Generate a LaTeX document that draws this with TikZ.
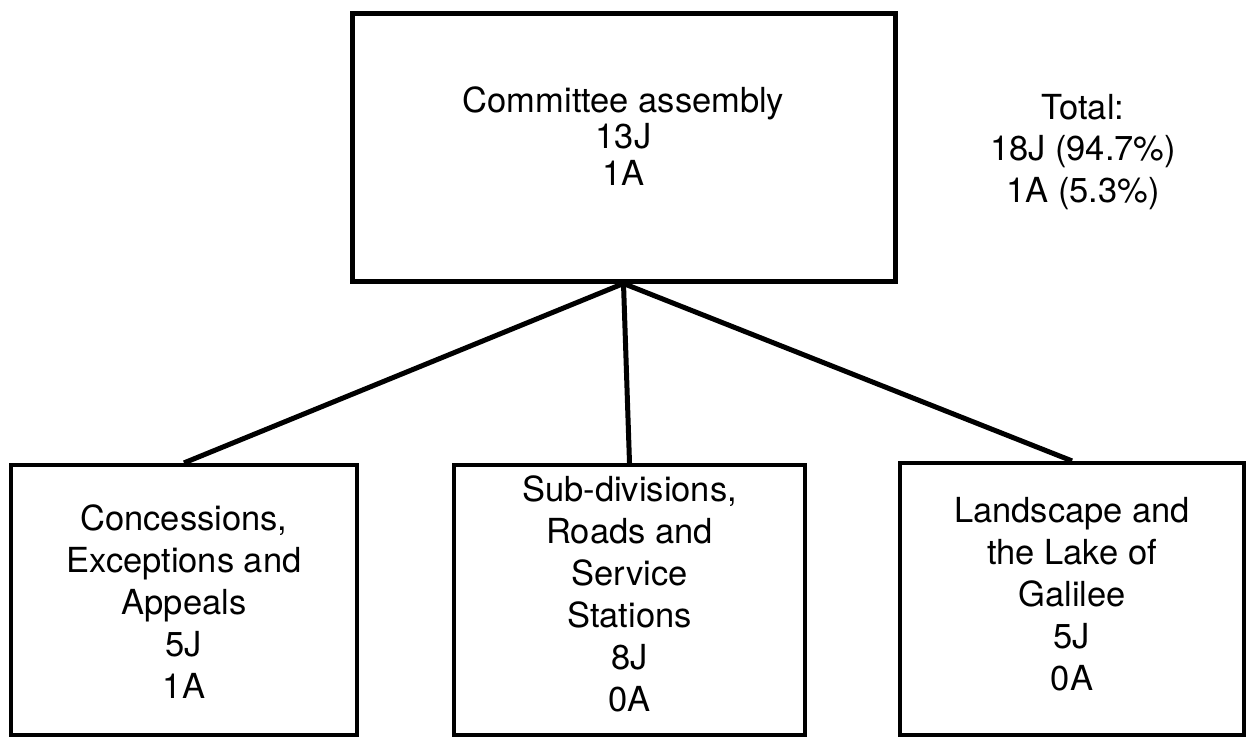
\documentclass[tikz,border=0pt]{standalone}
\usepackage{fontspec}
\setmainfont{TeX Gyre Heros}
\begin{document}
\begin{tikzpicture}[x=1pt,y=-1pt,
  boxframe/.style={draw, line width=4.2pt, inner sep=0pt, rectangle},
  mainframe/.style={draw, line width=5pt, inner sep=0pt, rectangle},
  boxtext/.style={align=center, inner sep=0pt, font=\fontsize{34.5}{42}\selectfont},
  link/.style={line width=5pt}]
  \useasboundingbox (0,0) rectangle (1247,737);

  % committee box
  \node[mainframe, minimum width=543pt, minimum height=268pt] (top) at (623.5,147) {};
  \node[boxtext, font=\fontsize{34.5}{36.5}\selectfont] (toptext) at (623.5,136)
    {Committee assembly\\13J\\1A};

  % totals
  \node[boxtext, font=\fontsize{34.5}{41.5}\selectfont] (total) at (1083,152)
    {Total:\\18J (94.7\%)\\1A (5.3\%)};

  % sub-committee boxes
  \node[boxframe, minimum width=346pt, minimum height=270pt] (left) at (184,600) {};
  \node[boxframe, minimum width=351pt, minimum height=270pt] (mid) at (629.5,600) {};
  \node[boxframe, minimum width=344pt, minimum height=272pt] (right) at (1072,599) {};

  \node[boxtext] (lefttext) at (184,601.5)
    {Concessions,\\Exceptions and\\Appeals\\5J\\1A};
  \node[boxtext] (midtext) at (629.5,594)
    {Sub-divisions,\\Roads and\\Service\\Stations\\8J\\0A};
  \node[boxtext] (righttext) at (1072,594.5)
    {Landscape and\\the Lake of\\Galilee\\5J\\0A};

  % connectors
  \draw[link] (top.south) -- (left.north);
  \draw[link] (top.south) -- (mid.north);
  \draw[link] (top.south) -- (right.north);
\end{tikzpicture}
\end{document}
